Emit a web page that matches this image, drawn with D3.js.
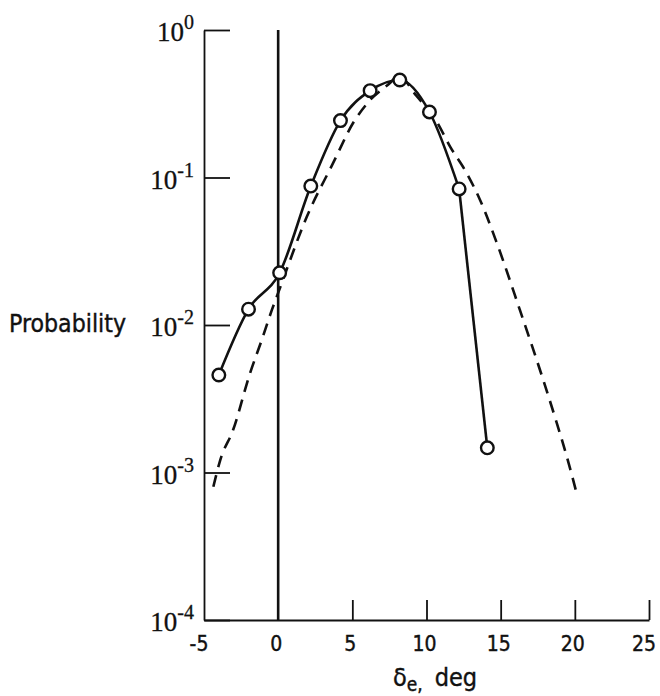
<!DOCTYPE html>
<html>
<head>
<meta charset="utf-8">
<script src="https://cdn.jsdelivr.net/npm/d3@7"></script>
<style>
  html, body { margin: 0; padding: 0; background: #fff; }
  svg { display: block; }
  .narrow { font-family: 'Liberation Sans Narrow', 'DejaVu Sans', sans-serif; font-stretch: condensed; }
</style>
</head>
<body>
<svg id="chart" width="660" height="696"></svg>
<script>
// ---- data ----
const measuredX = [-4, -2, 0.1, 2.2, 4.2, 6.2, 8.2, 10.2, 12.2, 14.1];
const measuredP = [4.58e-3, 1.28e-2, 2.26e-2, 8.75e-2, 0.243, 0.388, 0.458, 0.278, 0.0836, 1.47e-3];

const fitX = [-4.37, -3.9, -3.04, -1.9, -1.11, -0.43, 0.12, 1.93, 3.7, 5.05, 6.2, 7.54, 8.1, 9.3, 10.69, 11.59, 12.71, 13.61, 14.74, 16.3, 17.87, 18.78, 19.46, 20.17];
const fitP = [8.0e-4, 1.22e-3, 1.94e-3, 4.7e-3, 7.9e-3, 1.26e-2, 1.78e-2, 5.42e-2, 0.125, 0.234, 0.335, 0.437, 0.49, 0.36, 0.239, 0.162, 0.107, 0.0704, 0.036, 0.0126, 4.24e-3, 2.17e-3, 1.28e-3, 6.93e-4];

const xTicks = [-5, 0, 5, 10, 15, 20, 25];
const yTicks = [1, 1e-1, 1e-2, 1e-3, 1e-4];
const yExponents = ["0", "-1", "-2", "-3", "-4"];

// ---- scales ----
const svg = d3.select("#chart");
const x = d3.scaleLinear().domain([-5, 25]).range([204, 649]);
const y = d3.scaleLog().domain([1e-4, 1]).range([620, 30]);

const ink = "#111";

// y axis (ticks pointing inward)
const yAxis = d3.axisLeft(y).tickValues(yTicks).tickSizeInner(-26).tickSizeOuter(0).tickFormat("");
const gy = svg.append("g").attr("transform", `translate(${x(-5)},0)`).call(yAxis);
gy.select(".domain").attr("stroke", ink).attr("stroke-width", 1.8);
gy.selectAll(".tick line").attr("stroke", ink).attr("stroke-width", 1.8);

// x axis (ticks pointing upward)
const xAxis = d3.axisBottom(x).tickValues(xTicks.filter(d => d > 0)).tickSizeInner(-20).tickSizeOuter(0).tickFormat("");
const gx = svg.append("g").attr("transform", `translate(0,${y(1e-4)})`).call(xAxis);
gx.select(".domain").attr("stroke", ink).attr("stroke-width", 1.8);
gx.selectAll(".tick line").attr("stroke", ink).attr("stroke-width", 1.8);

// zero line
svg.append("line")
  .attr("x1", x(0)).attr("x2", x(0))
  .attr("y1", y(1)).attr("y2", y(1e-4))
  .attr("stroke", ink).attr("stroke-width", 2.6);

// x tick labels
svg.append("g").selectAll("text").data(xTicks).join("text")
  .attr("class", "narrow")
  .attr("x", d => x(d) - (d < 0 ? 5 : (d >= 25 ? 5 : 2)))
  .attr("y", 651)
  .attr("text-anchor", "middle")
  .attr("font-size", 21)
  .attr("fill", ink)
  .attr("stroke", ink).attr("stroke-width", 0.4)
  .text(d => String(d));

// y tick labels 10^n
const yl = svg.append("g").selectAll("text").data(yTicks).join("text")
  .attr("x", 194)
  .attr("y", d => y(d) + 11)
  .attr("text-anchor", "end")
  .attr("font-family", "'Liberation Serif', 'DejaVu Serif', serif")
  .attr("fill", ink)
  .attr("stroke", ink).attr("stroke-width", 0.3);
yl.append("tspan").attr("font-size", 27).text("10");
yl.append("tspan").attr("font-size", 20).attr("dy", -12).text((d, i) => yExponents[i]);

// axis titles
svg.append("text")
  .attr("class", "narrow")
  .attr("x", 9).attr("y", 332)
  .attr("font-size", 25)
  .attr("textLength", 117).attr("lengthAdjust", "spacingAndGlyphs")
  .attr("fill", ink)
  .attr("stroke", ink).attr("stroke-width", 0.4)
  .text("Probability");

const xt = svg.append("text")
  .attr("class", "narrow")
  .attr("x", 393).attr("y", 686)
  .attr("font-size", 25)
  .attr("fill", ink)
  .attr("stroke", ink).attr("stroke-width", 0.4);
xt.append("tspan").text("δ");
xt.append("tspan").attr("font-size", 19).attr("dy", 5).text("e,");
xt.append("tspan").attr("dy", -5).attr("dx", 12).text("deg");

// fitted (dashed) curve
const fitData = fitX.map((v, i) => [v, fitP[i]]);
svg.append("path")
  .datum(fitData)
  .attr("fill", "none")
  .attr("stroke", ink)
  .attr("stroke-width", 2.6)
  .attr("stroke-dasharray", "12,8")
  .attr("d", d3.line().x(d => x(d[0])).y(d => y(d[1])).curve(d3.curveMonotoneX));

// measured (solid) curve: smooth through the points, straight final drop
const measData = measuredX.map((v, i) => [v, measuredP[i]]);
const smoothPart = measData.slice(0, measData.length - 1);
const dropPart = measData.slice(measData.length - 2);
const solidStyle = p => p.attr("fill", "none").attr("stroke", ink).attr("stroke-width", 2.6);
svg.append("path").datum(smoothPart).call(solidStyle)
  .attr("d", d3.line().x(d => x(d[0])).y(d => y(d[1])).curve(d3.curveMonotoneX));
svg.append("path").datum(dropPart).call(solidStyle)
  .attr("d", d3.line().x(d => x(d[0])).y(d => y(d[1])).curve(d3.curveLinear));

// markers
svg.append("g").selectAll("circle").data(measData).join("circle")
  .attr("cx", d => x(d[0]))
  .attr("cy", d => y(d[1]))
  .attr("r", 6.3)
  .attr("fill", "#fff")
  .attr("stroke", ink)
  .attr("stroke-width", 2.4);
</script>
</body>
</html>
